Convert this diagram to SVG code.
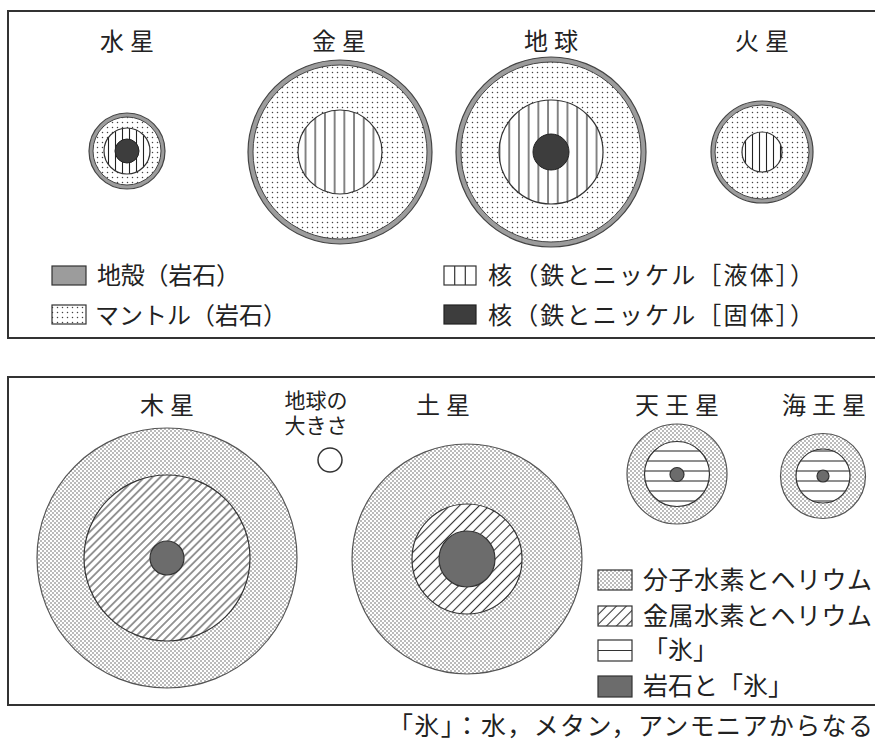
<svg xmlns="http://www.w3.org/2000/svg" width="875" height="743" viewBox="0 0 875 743">
  <style>
    .t { font-family: "Noto Sans CJK JP", "Noto Sans CJK SC", sans-serif; fill: #222; }
    .title { font-size: 24px; letter-spacing: 6px; text-anchor: middle; }
    .leg { font-size: 24px; }
    .leg2 { font-size: 25px; }
    .frame { fill: none; stroke: #333; stroke-width: 2; }
    .crust { fill: #9c9c9c; stroke: #444; stroke-width: 1.2; }
    .mantle { fill: url(#dotsTop); stroke: #444; stroke-width: 1; }
    .ln { stroke: #333; stroke-width: 1.2; }
    .solid { fill: #3d3d3d; stroke: #222; stroke-width: 1; }
    .molec { fill: url(#dotsDense); stroke: #555; stroke-width: 1.2; }
    .rock { fill: #6c6c6c; stroke: #333; stroke-width: 1.2; }
    .ice { fill: url(#iceLines); stroke: #333; stroke-width: 1.2; }
  </style>
  <defs>
    <pattern id="dotsTop" patternUnits="userSpaceOnUse" width="5" height="5">
      <rect width="5" height="5" fill="#fff"/>
      <circle cx="2.5" cy="2.5" r="0.75" fill="#444"/>
    </pattern>
    <pattern id="dotsDense" patternUnits="userSpaceOnUse" width="4" height="4">
      <rect width="4" height="4" fill="#fff"/>
      <circle cx="1" cy="1" r="0.7" fill="#444"/>
      <circle cx="3" cy="3" r="0.7" fill="#444"/>
    </pattern>
    <pattern id="vWide" patternUnits="userSpaceOnUse" width="9.7" height="10">
      <rect width="9.7" height="10" fill="#fff"/>
      <line x1="4.85" y1="0" x2="4.85" y2="10" stroke="#222" stroke-width="1.1"/>
    </pattern>
    <pattern id="vNarrow" patternUnits="userSpaceOnUse" width="7" height="10">
      <rect width="7" height="10" fill="#fff"/>
      <line x1="3.5" y1="0" x2="3.5" y2="10" stroke="#222" stroke-width="1.1"/>
    </pattern>
    <pattern id="hatchJ" patternUnits="userSpaceOnUse" width="5.6" height="10" patternTransform="rotate(45)">
      <rect width="5.6" height="10" fill="#fff"/>
      <line x1="2.8" y1="0" x2="2.8" y2="10" stroke="#333" stroke-width="1"/>
    </pattern>
    <pattern id="hatchS" patternUnits="userSpaceOnUse" width="7" height="10" patternTransform="rotate(45)">
      <rect width="7" height="10" fill="#fff"/>
      <line x1="3.5" y1="0" x2="3.5" y2="10" stroke="#333" stroke-width="1.1"/>
    </pattern>
    <pattern id="iceLines" patternUnits="userSpaceOnUse" width="10" height="10">
      <rect width="10" height="10" fill="#fff"/>
      <line x1="0" y1="1" x2="10" y2="1" stroke="#333" stroke-width="1.1"/>
    </pattern>
  </defs>

  <rect width="875" height="743" fill="#fff"/>

  <!-- terrestrial planets panel -->
  <rect class="frame" x="8" y="11" width="900" height="327"/>

  <g id="mercury">
    <text class="t title" x="130" y="50">水星</text>
    <circle class="crust" cx="127" cy="151" r="38"/>
    <circle class="mantle" cx="127" cy="151" r="34"/>
    <circle cx="127" cy="151" r="23" fill="url(#vNarrow)" class="ln"/>
    <circle class="solid" cx="127" cy="151" r="12"/>
  </g>

  <g id="venus">
    <text class="t title" x="342" y="50">金星</text>
    <circle class="crust" cx="340" cy="152" r="92"/>
    <circle class="mantle" cx="340" cy="152" r="87"/>
    <circle cx="340" cy="152" r="42" fill="url(#vWide)" class="ln"/>
  </g>

  <g id="earth">
    <text class="t title" x="554" y="50">地球</text>
    <circle class="crust" cx="551" cy="152" r="95"/>
    <circle class="mantle" cx="551" cy="152" r="90"/>
    <circle cx="551" cy="152" r="52" fill="url(#vWide)" class="ln"/>
    <circle class="solid" cx="551" cy="152" r="18"/>
  </g>

  <g id="mars">
    <text class="t title" x="765" y="50">火星</text>
    <circle class="crust" cx="762" cy="152" r="51"/>
    <circle class="mantle" cx="762" cy="152" r="47"/>
    <circle cx="762" cy="152" r="20" fill="url(#vNarrow)" class="ln"/>
  </g>

  <g id="legend-terrestrial">
    <rect x="52" y="266" width="34" height="19" fill="#9c9c9c" stroke="#333" stroke-width="1.2"/>
    <text class="t leg" x="97" y="284" textLength="143" lengthAdjust="spacing">地殻（岩石）</text>
    <rect x="52" y="305" width="34" height="19" fill="url(#dotsTop)" stroke="#333" stroke-width="1.2"/>
    <text class="t leg" x="95" y="324" textLength="192" lengthAdjust="spacing">マントル（岩石）</text>
    <rect x="444" y="266" width="32" height="19" fill="#fff" stroke="#333" stroke-width="1.2"/>
    <line class="ln" x1="454.7" y1="266" x2="454.7" y2="285"/>
    <line class="ln" x1="465.3" y1="266" x2="465.3" y2="285"/>
    <text class="t leg" x="488" y="284" textLength="326" lengthAdjust="spacing">核（鉄とニッケル［液体］）</text>
    <rect x="444" y="305" width="32" height="19" fill="#3d3d3d" stroke="#222" stroke-width="1.2"/>
    <text class="t leg" x="488" y="324" textLength="326" lengthAdjust="spacing">核（鉄とニッケル［固体］）</text>
  </g>

  <!-- giant planets panel -->
  <rect class="frame" x="8" y="377" width="900" height="328"/>

  <g id="jupiter">
    <text class="t title" x="170" y="414">木星</text>
    <circle class="molec" cx="167" cy="558" r="130"/>
    <circle cx="167" cy="558" r="83" fill="url(#hatchJ)" class="ln"/>
    <circle class="rock" cx="167" cy="558" r="17"/>
  </g>

  <g id="earth-size">
    <text class="t" font-size="21" text-anchor="middle"><tspan x="316" y="408">地球の</tspan><tspan x="316" y="433">大きさ</tspan></text>
    <circle cx="330" cy="460" r="12" fill="#fff" stroke="#333" stroke-width="1.5"/>
  </g>

  <g id="saturn">
    <text class="t title" x="446" y="414">土星</text>
    <circle class="molec" cx="467" cy="559" r="115"/>
    <circle cx="467" cy="559" r="55" fill="url(#hatchS)" class="ln"/>
    <circle class="rock" cx="467" cy="559" r="28"/>
  </g>

  <g id="uranus">
    <text class="t title" x="680" y="414">天王星</text>
    <circle class="molec" cx="677" cy="474" r="50"/>
    <circle class="ice" cx="677" cy="474" r="32.5"/>
    <circle class="rock" cx="677" cy="474.5" r="7"/>
  </g>

  <g id="neptune">
    <text class="t title" x="827" y="414">海王星</text>
    <circle class="molec" cx="823" cy="476" r="42.5"/>
    <circle class="ice" cx="823" cy="476" r="27"/>
    <circle class="rock" cx="823" cy="476" r="6"/>
  </g>

  <g id="legend-giant">
    <rect x="598" y="570" width="34" height="20" fill="url(#dotsDense)" stroke="#333" stroke-width="1.2"/>
    <text class="t leg2" x="643" y="589" textLength="229" lengthAdjust="spacing">分子水素とヘリウム</text>
    <rect x="598" y="606" width="34" height="20" fill="url(#hatchS)" stroke="#333" stroke-width="1.2"/>
    <text class="t leg2" x="643" y="625" textLength="229" lengthAdjust="spacing">金属水素とヘリウム</text>
    <rect x="598" y="640" width="34" height="21" fill="#fff" stroke="#333" stroke-width="1.2"/>
    <line class="ln" x1="598" y1="650.5" x2="632" y2="650.5"/>
    <text class="t leg2" x="643" y="659">「氷」</text>
    <rect x="598" y="676" width="34" height="21" fill="#6c6c6c" stroke="#333" stroke-width="1.2"/>
    <text class="t leg2" x="643" y="695">岩石と「氷」</text>
  </g>

  <text class="t" x="388" y="735" font-size="25" textLength="485" lengthAdjust="spacing">「氷」：水，メタン，アンモニアからなる</text>
</svg>
